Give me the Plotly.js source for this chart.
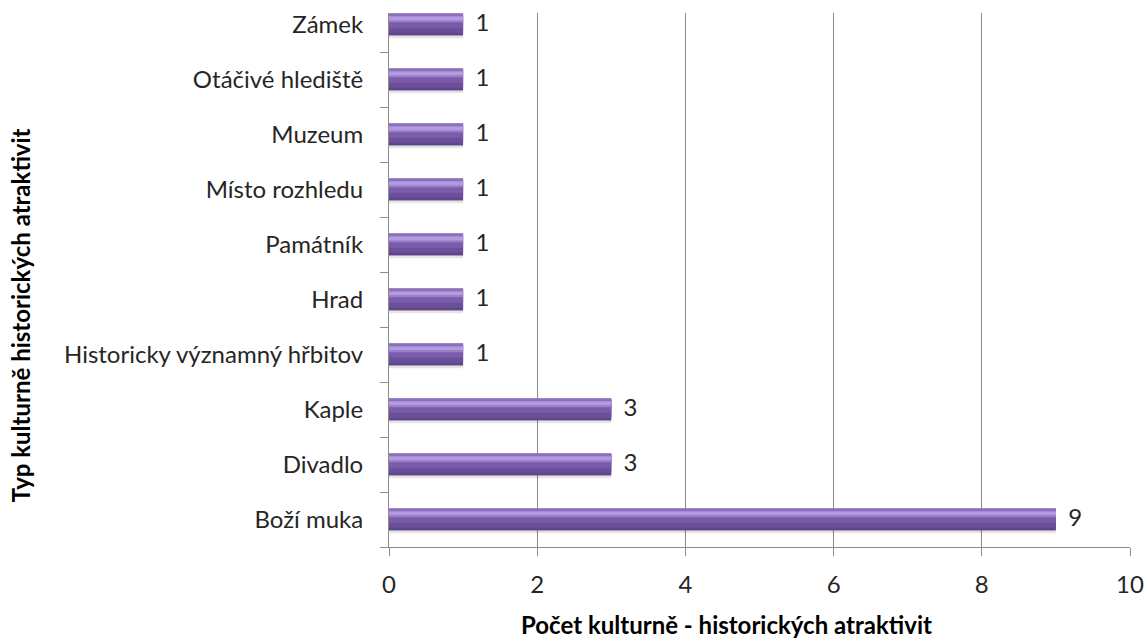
<!DOCTYPE html>
<html>
<head>
<meta charset="utf-8">
<script src="https://cdn.plot.ly/plotly-3.0.1.min.js"></script>
<style>html,body{margin:0;padding:0;background:#fff;}#chart{width:1146px;height:640px;}</style>
</head>
<body>
<div id="chart"></div>
<script>
const categories = ["Boží muka","Divadlo","Kaple","Historicky významný hřbitov","Hrad","Památník","Místo rozhledu","Muzeum","Otáčivé hlediště","Zámek"];
const counts = [9,3,3,1,1,1,1,1,1,1];
const labels = counts.map(v => String(v));
const xTicks = [0,2,4,6,8,10];
const xTitle = "Počet kulturně - historických atraktivit";
const yTitle = "Typ kulturně historických atraktivit";

const FONT = "Lato, 'Open Sans', sans-serif";

// layered stripes to imitate the shaded bar
const stripes = [
  {offset:-0.25, width:0.05, color:"rgba(0,0,0,0.10)"},
  {offset:-0.2, width:0.4, color:"#5f4589"},
  {offset:-0.15, width:0.33, color:"#6c4f9b"},
  {offset:-0.06, width:0.21, color:"#7a5caa"},
  {offset:0.04, width:0.12, color:"#9a7fcc"},
  {offset:0.08, width:0.07, color:"#b49be0"},
  {offset:0.15, width:0.05, color:"#8d70bb"}
];

const traces = stripes.map(s => ({
  type:"bar", orientation:"h",
  x:counts, y:categories,
  width:s.width, offset:s.offset,
  marker:{color:s.color, line:{width:0}},
  hoverinfo:"skip", showlegend:false
}));

traces.push({
  type:"scatter", mode:"text",
  x:counts, y:categories,
  text:labels.map(t => "  " + t),
  textposition:"middle right",
  textfont:{family:FONT, size:24, color:"#262626"},
  hoverinfo:"skip", showlegend:false, cliponaxis:false
});

const layout = {
  width:1146, height:640,
  margin:{l:389, r:16, t:13, b:93},
  paper_bgcolor:"#fff", plot_bgcolor:"#fff",
  barmode:"overlay",
  font:{family:FONT, size:24, color:"#262626"},
  xaxis:{
    range:[0,10], tickvals:xTicks, ticktext:xTicks.map(String),
    showgrid:true, gridcolor:"#8c8c8c", gridwidth:1,
    zeroline:false, showline:true, linecolor:"#8c8c8c", linewidth:1,
    ticks:"outside", ticklen:8, tickcolor:"#8c8c8c",
    ticklabelstandoff:8,
    tickfont:{family:FONT, size:24, color:"#262626"},
    fixedrange:true
  },
  yaxis:{
    type:"category", categoryorder:"array", categoryarray:categories,
    range:[-0.5, 9.21],
    showgrid:false, zeroline:false,
    showline:true, linecolor:"#8c8c8c", linewidth:1,
    ticks:"outside", ticklen:8, tickcolor:"#8c8c8c", tickson:"boundaries",
    ticklabelstandoff:20,
    tickfont:{family:FONT, size:24, color:"#262626"},
    fixedrange:true
  },
  annotations:[
    {text:xTitle, xref:"paper", yref:"paper", x:0.456, y:0, yshift:-77, xanchor:"center", yanchor:"middle",
     showarrow:false, font:{family:FONT, size:24, color:"#000", weight:"bold"}},
    {text:yTitle, xref:"paper", yref:"paper", x:0, xshift:-369, y:0.434, xanchor:"center", yanchor:"middle", textangle:-90,
     showarrow:false, font:{family:FONT, size:24, color:"#000", weight:"bold"}}
  ]
};

Plotly.newPlot("chart", traces, layout, {displayModeBar:false, staticPlot:true});
</script>
</body>
</html>
